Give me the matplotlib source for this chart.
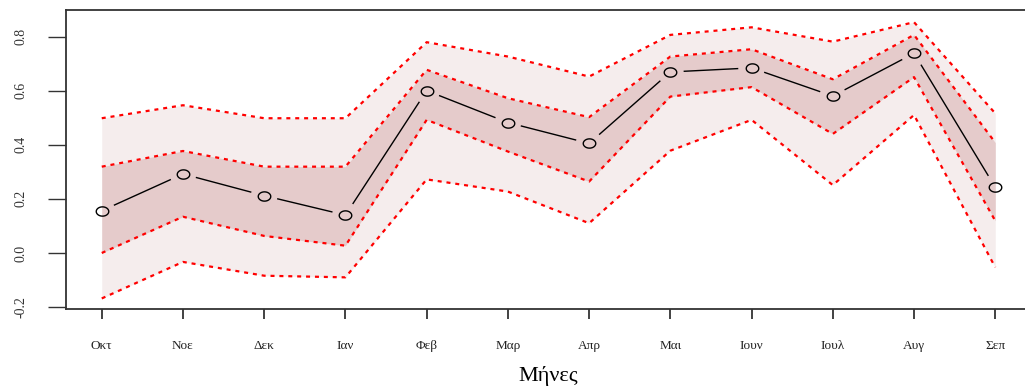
import numpy as np
import matplotlib
matplotlib.use('Agg')
import matplotlib.pyplot as plt
from matplotlib.path import Path

plt.rcParams['font.family'] = ['Liberation Serif', 'DejaVu Serif']

# 月份与数值
months = ['Οκτ', 'Νοε', 'Δεκ', 'Ιαν', 'Φεβ', 'Μαρ', 'Απρ', 'Μαι', 'Ιουν', 'Ιουλ', 'Αυγ', 'Σεπ']
mean_vals = [0.156, 0.292, 0.212, 0.140, 0.600, 0.482, 0.405, 0.669, 0.684, 0.580, 0.738, 0.243]
inner_upper = [0.319, 0.377, 0.319, 0.319, 0.677, 0.572, 0.502, 0.726, 0.753, 0.642, 0.806, 0.408]
inner_lower = [0.000, 0.134, 0.063, 0.027, 0.492, 0.375, 0.264, 0.578, 0.613, 0.440, 0.650, 0.119]
outer_upper = [0.498, 0.546, 0.498, 0.498, 0.779, 0.726, 0.652, 0.806, 0.834, 0.781, 0.853, 0.516]
outer_lower = [-0.168, -0.033, -0.084, -0.090, 0.272, 0.227, 0.110, 0.378, 0.492, 0.251, 0.510, -0.053]
y_ticks = [-0.2, 0.0, 0.2, 0.4, 0.6, 0.8]

x = np.arange(1, len(months) + 1)

fig = plt.figure(figsize=(10.25, 3.92), dpi=100)
ax = fig.add_axes([66 / 1025, 83 / 392, 965 / 1025, 299 / 392])

outer_col = '#f5eded'
inner_col = '#e5cbcb'

ax.set_xlim(0.56, 12.44)
ax.set_ylim(-0.207, 0.898)

# 置信带
ax.fill_between(x, outer_lower, outer_upper, color=outer_col, lw=0, zorder=1)
ax.fill_between(x, inner_lower, inner_upper, color=inner_col, lw=0, zorder=2)

red_style = dict(color='red', lw=1.6, ls=(0, (1.8, 2.2)), zorder=3)
for band in (outer_upper, outer_lower, inner_upper, inner_lower):
    ax.plot(x, band, **red_style)

# 均值线（R 的 type="b"：线段在点附近断开）
pts = ax.transData.transform(np.column_stack([x, mean_vals]))
gap = 14.0  # 像素
inv = ax.transData.inverted()
for p0, p1 in zip(pts[:-1], pts[1:]):
    d = p1 - p0
    L = np.hypot(*d)
    if L <= 2 * gap:
        continue
    u = d / L
    seg = inv.transform(np.array([p0 + u * gap, p1 - u * gap]))
    ax.plot(seg[:, 0], seg[:, 1], color='black', lw=1.0, zorder=4)

# 椭圆形空心点（原图横向拉伸）
t = np.linspace(0, 2 * np.pi, 60)
ellipse = Path(np.column_stack([1.35 * np.cos(t), np.sin(t)]), closed=True)
ax.plot(x, mean_vals, ls='none', marker=ellipse, ms=9, mfc='none', mec='black', mew=1.0, zorder=6)

ax.set_xticks(x)
ax.set_xticklabels(months, fontsize=9.5)
ax.set_yticks(y_ticks)
ax.set_yticklabels([f'{v:.1f}' for v in y_ticks], fontsize=10, rotation=90, va='center')

ax.tick_params(axis='x', length=7.5, width=1.2, pad=15, colors='#222222')
ax.tick_params(axis='y', length=13, width=1.0, pad=15, colors='#333333')

for sp in ax.spines.values():
    sp.set_linewidth(1.3)
    sp.set_color('#333333')

ax.set_xlabel('Μήνες', fontsize=16, labelpad=10)

fig.savefig('out.png', dpi=100)
